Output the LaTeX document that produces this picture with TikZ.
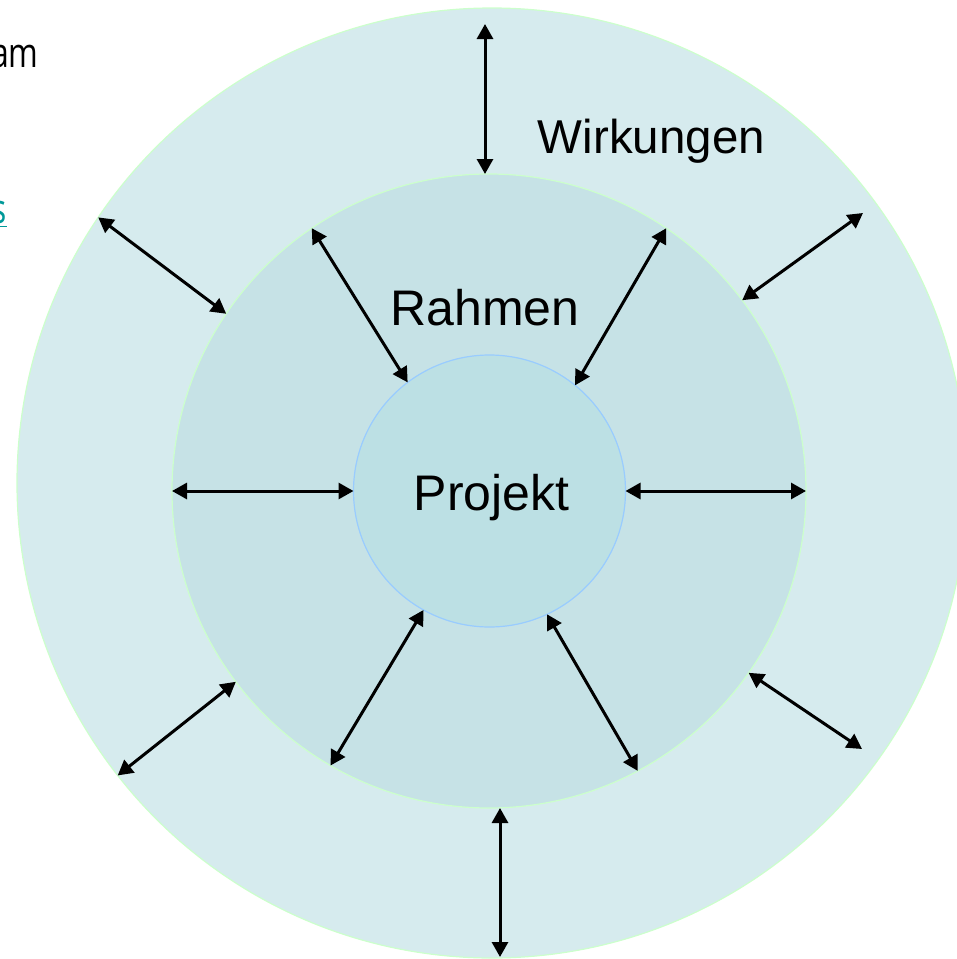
\documentclass[tikz,border=0pt]{standalone}
\usepackage{fontspec}
\setmainfont{Liberation Sans}
\newfontfamily\slidefont[FakeStretch=0.78]{Open Sans}
\usepackage{xcolor}
\usetikzlibrary{shapes,arrows.meta}
\definecolor{wirkfill}{RGB}{214,235,238}
\definecolor{rahmfill}{RGB}{198,226,230}
\definecolor{projfill}{RGB}{188,224,228}
\definecolor{ringline}{RGB}{204,255,204}
\definecolor{projline}{RGB}{153,204,255}
\definecolor{linkteal}{RGB}{0,153,153}

\begin{document}
\begin{tikzpicture}[x=0.5pt,y=-0.5pt]
\tikzset{ring/.style={circle,inner sep=0pt,outer sep=0pt,line width=0.6pt},
  label/.style={font=\fontsize{25}{30}\selectfont,anchor=base},
  biarrow/.style={line width=1.5pt,{Triangle[length=7.5pt,width=8pt]}-{Triangle[length=7.5pt,width=8pt]}}}
\useasboundingbox (0,0) rectangle (957,959);
\clip (0,0) rectangle (957,959);
\node[ring,draw=ringline,fill=wirkfill,minimum size=475pt](wirk) at (492,483){};
\node[ring,draw=ringline,fill=rahmfill,minimum size=317pt](rahmen) at (489,491){};
\node[ring,draw=projline,fill=projfill,minimum size=136pt](proj) at (489.5,491){};
\node[label](projtext) at (491.5,510){Projekt};
\node[label](rahmtext) at (485,325){Rahmen};
\node[label,font=\fontsize{23.75}{28}\selectfont](wirktext) at (651.5,153){Wirkungen};
\node[anchor=base east,inner sep=0pt,font=\slidefont\fontsize{20.5}{24}\selectfont](amtext) at (39,67){am};
\node[anchor=base east,inner sep=0pt,text=linkteal,font=\slidefont\fontsize{20.5}{24}\selectfont](stext) at (7,223){\underline{s}};
\coordinate (wt) at (485,24);
\coordinate (wb) at (500,957);
\coordinate (wur) at (863,213);
\coordinate (wlr) at (862,749);
% inner ring
\draw[biarrow](rahmen.west) -- (proj.west);
\draw[biarrow](proj.east) -- (rahmen.east);
\draw[biarrow](rahmen.124) -- (proj.127);
\draw[biarrow](rahmen.56) -- (proj.51);
\draw[biarrow](rahmen.240) -- (proj.241);
\draw[biarrow](rahmen.298) -- (proj.295);
% outer ring
\draw[biarrow](wt) -- (wt |- rahmen.north);
\draw[biarrow](wb |- rahmen.south) -- (wb);
\draw[biarrow](wirk.146) -- (rahmen.146);
\draw[biarrow](rahmen.37) -- (wur);
\draw[biarrow](rahmen.325) -- (wlr);
\draw[biarrow](wirk.218) -- (rahmen.217);
\end{tikzpicture}
\end{document}
